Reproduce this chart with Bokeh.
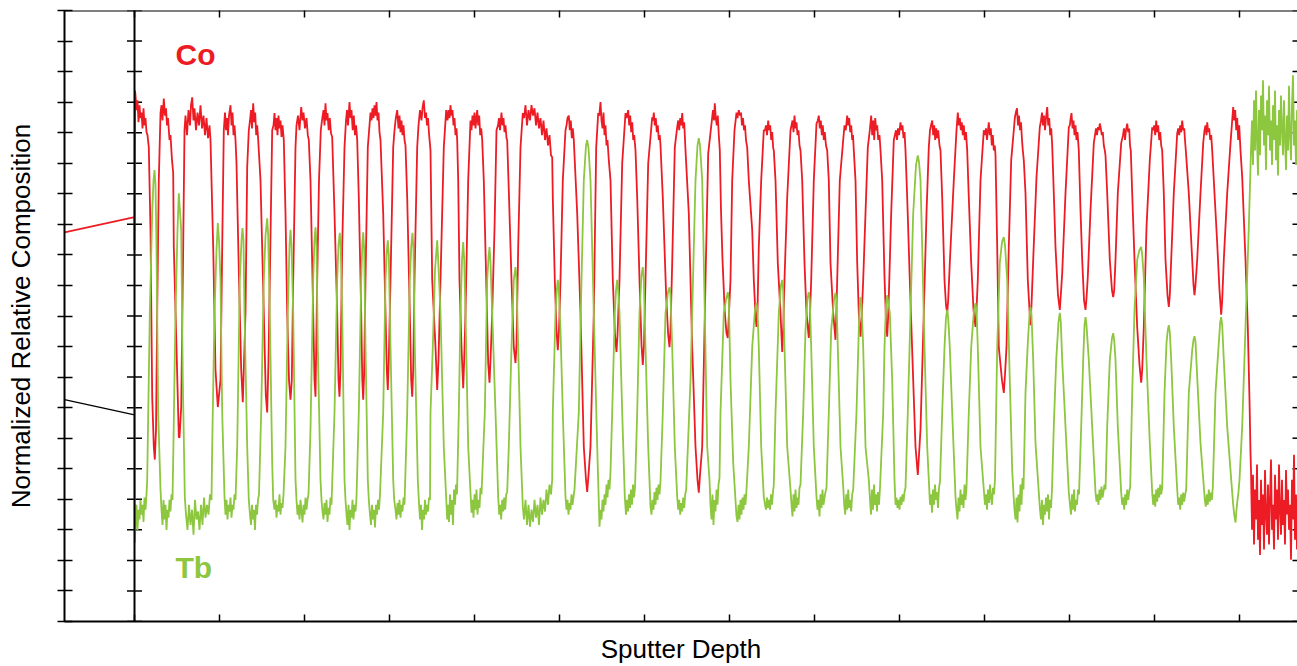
import math
from bokeh.plotting import figure
from bokeh.models import Range1d, FixedTicker, Label, Span, CustomLabelingPolicy
from bokeh.embed import file_html
from bokeh.resources import INLINE

CO_RED = "#ED1C24"
TB_GREEN = "#8DC63F"

# axis ticks (no tick labels are shown in the original)
depth_ticks = [0.0, 8.5, 17.0, 25.5, 34.0, 42.5, 51.0, 59.5, 68.0, 76.5, 85.0, 93.5, 102.0, 110.5]
comp_ticks = [0.0, 0.05, 0.10, 0.15, 0.20, 0.25, 0.30, 0.35, 0.40, 0.45, 0.50,
              0.55, 0.60, 0.65, 0.70, 0.75, 0.80, 0.85, 0.90, 0.95, 1.0]
depth_start, depth_end = -7.0, 116.3
break_depth = 0.0

# Co profile (depth, normalized composition)
co_depth = [
    -7.0, 0.0, 0.0, 0.05,
    0.1, 0.2, 0.3, 0.4, 0.5, 0.6, 0.7, 0.8, 0.9, 1.0, 1.1, 1.2, 1.3, 1.43, 1.6, 1.77, 1.93, 2.03, 2.15, 2.27, 2.43, 2.6,
    2.7, 2.8, 2.93, 3.05, 3.15, 3.25, 3.35, 3.5, 3.6, 3.75, 3.87, 3.93, 4.2, 4.43, 4.5, 4.67, 4.87, 5.0,
    5.1, 5.25, 5.4, 5.55, 5.65, 5.77, 5.9, 6.0, 6.15, 6.3, 6.45, 6.6, 6.75, 6.9, 7.05, 7.2, 7.35, 7.5, 7.6, 7.87, 8.1, 8.33, 8.6, 8.77, 8.93,
    9.05, 9.15, 9.25, 9.35, 9.45, 9.6, 9.7, 9.8, 9.9, 10.0, 10.1, 10.2, 10.43, 10.67, 10.83, 11.1, 11.27, 11.43,
    11.55, 11.65, 11.75, 11.87, 11.97, 12.07, 12.17, 12.27, 12.37, 12.6, 12.93, 13.13, 13.27, 13.4, 13.53, 13.77,
    13.9, 14.0, 14.1, 14.2, 14.3, 14.4, 14.5, 14.6, 14.7, 14.8, 14.93, 15.1, 15.27, 15.45, 15.6, 15.73, 15.87, 16.1,
    16.2, 16.35, 16.5, 16.67, 16.8, 16.9, 17.05, 17.2, 17.33, 17.43, 17.6, 17.87, 18.0, 18.1, 18.27, 18.45, 18.63,
    18.75, 18.9, 19.0, 19.1, 19.2, 19.3, 19.42, 19.53, 19.65, 19.77, 20.0, 20.27, 20.4, 20.5, 20.6, 20.77, 21.0,
    21.15, 21.25, 21.35, 21.5, 21.6, 21.7, 21.82, 21.93, 22.05, 22.16, 22.27, 22.43, 22.67, 22.78, 22.87, 22.96, 23.1, 23.33,
    23.5, 23.6, 23.7, 23.8, 23.9, 24.0, 24.1, 24.2, 24.3, 24.4, 24.5, 24.6, 24.87, 25.1, 25.23, 25.33, 25.43, 25.6, 25.87,
    26.0, 26.13, 26.27, 26.4, 26.5, 26.6, 26.7, 26.8, 26.9, 27.0, 27.1, 27.27, 27.53, 27.67, 27.77, 27.87, 28.0, 28.27,
    28.4, 28.55, 28.7, 28.8, 28.93, 29.05, 29.15, 29.25, 29.35, 29.45, 29.6, 29.77, 30.1, 30.27, 30.4, 30.6, 30.93, 31.17,
    31.3, 31.4, 31.5, 31.6, 31.7, 31.8, 31.9, 32.0, 32.1, 32.2, 32.27, 32.37, 32.5, 32.7, 32.87, 32.97, 33.1, 33.37, 33.6,
    33.7, 33.8, 33.9, 34.0, 34.1, 34.27, 34.37, 34.47, 34.57, 34.67, 34.77, 34.93, 35.17, 35.37, 35.5, 35.6, 35.77, 36.0, 36.2,
    36.35, 36.45, 36.55, 36.7, 36.8, 36.9, 37.0, 37.1, 37.2, 37.27, 37.43, 37.7, 37.93, 38.1, 38.2, 38.37, 38.6, 38.83,
    38.95, 39.1, 39.25, 39.4, 39.55, 39.7, 39.85, 40.0, 40.15, 40.3, 40.45, 40.6, 40.75, 40.9, 41.05, 41.2, 41.35, 41.5, 41.65, 41.77, 41.83, 42.03, 42.2, 42.33, 42.45, 42.6, 42.83, 43.1,
    43.2, 43.3, 43.43, 43.53, 43.63, 43.73, 43.83, 43.93, 44.27, 44.6, 44.93, 45.15, 45.27, 45.4, 45.6, 45.93, 46.17, 46.37,
    46.48, 46.6, 46.7, 46.8, 46.9, 47.0, 47.1, 47.2, 47.3, 47.43, 47.6, 47.83, 48.05, 48.2, 48.3, 48.5, 48.77, 49.1,
    49.2, 49.37, 49.47, 49.57, 49.67, 49.77, 49.87, 49.97, 50.1, 50.27, 50.5, 50.7, 50.83, 50.95, 51.1, 51.37, 51.77,
    51.85, 51.93, 52.03, 52.13, 52.23, 52.33, 52.43, 52.53, 52.6, 52.83, 53.17, 53.37, 53.5, 53.6, 53.77, 54.03, 54.27,
    54.37, 54.47, 54.57, 54.67, 54.77, 54.87, 54.97, 55.1, 55.43, 55.77, 56.1, 56.3, 56.43, 56.55, 56.77, 57.1, 57.37, 57.77,
    57.85, 57.95, 58.03, 58.13, 58.23, 58.33, 58.43, 58.53, 58.65, 58.8, 59.03, 59.2, 59.33, 59.6, 59.77, 60.0, 60.2,
    60.3, 60.43, 60.55, 60.65, 60.75, 60.85, 60.95, 61.05, 61.15, 61.27, 61.43, 61.77, 61.93, 62.1, 62.2, 62.3, 62.43, 62.67, 62.93,
    63.05, 63.15, 63.25, 63.37, 63.47, 63.57, 63.67, 63.77, 63.87, 63.93, 64.1, 64.33, 64.6, 64.77, 64.87, 65.0, 65.27, 65.6,
    65.7, 65.8, 65.9, 66.0, 66.1, 66.2, 66.3, 66.4, 66.5, 66.6, 66.77, 67.0, 67.2, 67.43, 67.53, 67.67, 67.93, 68.2,
    68.33, 68.43, 68.53, 68.63, 68.73, 68.83, 68.93, 69.03, 69.15, 69.27, 69.43, 69.6, 69.87, 70.1, 70.18, 70.27, 70.53, 70.87,
    71.0, 71.13, 71.27, 71.37, 71.47, 71.57, 71.67, 71.77, 71.85, 71.93, 72.1, 72.27, 72.43, 72.6, 72.7, 72.87, 73.1, 73.33,
    73.53, 73.67, 73.77, 73.87, 73.97, 74.07, 74.17, 74.27, 74.37, 74.5, 74.6, 74.77, 75.0, 75.15, 75.27, 75.35, 75.43, 75.67, 75.93,
    76.15, 76.25, 76.35, 76.45, 76.6, 76.7, 76.8, 76.9, 77.0, 77.1, 77.27, 77.53, 77.87, 78.1, 78.33, 78.45, 78.6, 78.93, 79.2, 79.43,
    79.55, 79.65, 79.77, 79.87, 79.97, 80.07, 80.17, 80.27, 80.37, 80.5, 80.6, 80.77, 81.0, 81.15, 81.27, 81.37, 81.53, 81.93, 82.2,
    82.33, 82.43, 82.53, 82.63, 82.73, 82.83, 82.93, 83.03, 83.15, 83.27, 83.43, 83.67, 83.9, 84.1, 84.2, 84.33, 84.6, 84.93,
    85.05, 85.15, 85.25, 85.35, 85.43, 85.53, 85.63, 85.73, 85.83, 85.93, 86.03, 86.1, 86.27, 86.43, 86.75, 86.93, 87.05, 87.2, 87.43, 87.67, 87.93,
    88.03, 88.13, 88.25, 88.35, 88.45, 88.55, 88.65, 88.75, 88.83, 88.93, 89.1, 89.33, 89.5, 89.6, 89.7, 89.87, 90.2, 90.53,
    90.65, 90.75, 90.85, 90.95, 91.05, 91.15, 91.27, 91.37, 91.47, 91.57, 91.67, 91.77, 91.93, 92.1, 92.35, 92.53, 92.63, 92.77, 93.1, 93.43,
    93.53, 93.62, 93.7, 93.8, 93.9, 94.0, 94.1, 94.2, 94.3, 94.43, 94.6, 94.77, 94.95, 95.1, 95.2, 95.33, 95.6, 95.93,
    96.05, 96.15, 96.25, 96.35, 96.45, 96.53, 96.63, 96.73, 96.83, 96.93, 97.03, 97.1, 97.27, 97.53, 97.75, 97.87, 97.97, 98.1, 98.33, 98.67,
    98.85, 98.95, 99.05, 99.15, 99.27, 99.37, 99.47, 99.55, 99.63, 99.77, 100.0, 100.27, 100.5, 100.67, 100.77, 100.93, 101.2, 101.53, 101.77,
    101.87, 101.97, 102.07, 102.17, 102.27, 102.37, 102.47, 102.57, 102.67, 102.77, 102.93, 103.1, 103.3, 103.43, 103.53, 103.67, 103.93, 104.27,
    104.37, 104.47, 104.57, 104.67, 104.77, 104.87, 104.97, 105.05, 105.13, 105.43, 105.77, 105.9, 106.0, 106.1, 106.27, 106.6, 106.87,
    107.0, 107.1, 107.2, 107.27, 107.37, 107.47, 107.57, 107.67, 107.77, 108.0, 108.27, 108.5, 108.67, 108.77, 108.93, 109.27, 109.6, 109.87,
    109.97, 110.07, 110.17, 110.27, 110.37, 110.47, 110.6, 110.77, 111.1, 111.33, 111.5, 111.6,
    111.65, 111.75, 111.85, 111.95, 112.05, 112.15, 112.25, 112.35, 112.45, 112.55,
    112.65, 112.75, 112.85, 112.95, 113.05, 113.15, 113.25, 113.35, 113.45, 113.55,
    113.65, 113.75, 113.85, 113.95, 114.05, 114.15, 114.25, 114.35, 114.45, 114.55,
    114.65, 114.75, 114.85, 114.95, 115.05, 115.15, 115.25, 115.35, 115.45, 115.55,
    115.65, 115.75, 115.85, 115.95, 116.05, 116.15, 116.25,
]
co_comp = [
    0.637, 0.662, 0.608, 0.869,
    0.861, 0.837, 0.853, 0.817, 0.845, 0.824, 0.833, 0.807, 0.840, 0.812, 0.824, 0.801, 0.796, 0.776, 0.641, 0.368, 0.286, 0.265, 0.314, 0.505, 0.722, 0.832,
    0.845, 0.820, 0.856, 0.828, 0.840, 0.812, 0.824, 0.788, 0.796, 0.755, 0.734, 0.613, 0.449, 0.302, 0.301, 0.351, 0.613, 0.804,
    0.828, 0.796, 0.837, 0.812, 0.845, 0.858, 0.820, 0.840, 0.804, 0.833, 0.812, 0.845, 0.807, 0.828, 0.796, 0.824, 0.791, 0.812, 0.788, 0.613, 0.412, 0.351, 0.395, 0.613, 0.804,
    0.833, 0.804, 0.824, 0.796, 0.828, 0.845, 0.812, 0.833, 0.796, 0.812, 0.788, 0.750, 0.575, 0.412, 0.359, 0.505, 0.744, 0.804,
    0.820, 0.837, 0.807, 0.848, 0.817, 0.833, 0.796, 0.812, 0.788, 0.722, 0.505, 0.371, 0.342, 0.428, 0.559, 0.804,
    0.812, 0.832, 0.804, 0.824, 0.796, 0.828, 0.807, 0.820, 0.793, 0.812, 0.788, 0.668, 0.505, 0.395, 0.363, 0.395, 0.559, 0.776,
    0.812, 0.828, 0.804, 0.842, 0.820, 0.833, 0.807, 0.824, 0.796, 0.788, 0.722, 0.505, 0.395, 0.368, 0.559, 0.722, 0.804,
    0.820, 0.837, 0.812, 0.848, 0.820, 0.832, 0.804, 0.824, 0.799, 0.793, 0.668, 0.505, 0.395, 0.368, 0.412, 0.613, 0.776,
    0.820, 0.837, 0.812, 0.850, 0.824, 0.837, 0.804, 0.828, 0.796, 0.812, 0.788, 0.694, 0.505, 0.395, 0.363, 0.404, 0.559, 0.776,
    0.812, 0.833, 0.820, 0.840, 0.824, 0.845, 0.828, 0.850, 0.820, 0.833, 0.801, 0.788, 0.668, 0.505, 0.412, 0.379, 0.428, 0.559, 0.776,
    0.804, 0.824, 0.837, 0.807, 0.828, 0.801, 0.820, 0.796, 0.812, 0.788, 0.779, 0.694, 0.505, 0.395, 0.368, 0.412, 0.559, 0.776,
    0.812, 0.837, 0.820, 0.840, 0.853, 0.824, 0.833, 0.812, 0.824, 0.799, 0.771, 0.559, 0.449, 0.379, 0.428, 0.559, 0.776, 0.837,
    0.820, 0.837, 0.824, 0.845, 0.828, 0.837, 0.812, 0.824, 0.796, 0.807, 0.788, 0.722, 0.559, 0.449, 0.382, 0.428, 0.505, 0.722, 0.820,
    0.804, 0.828, 0.812, 0.833, 0.807, 0.837, 0.812, 0.828, 0.796, 0.807, 0.788, 0.722, 0.559, 0.423, 0.391, 0.428, 0.505, 0.641, 0.804,
    0.812, 0.824, 0.804, 0.833, 0.812, 0.824, 0.801, 0.812, 0.791, 0.788, 0.706, 0.559, 0.449, 0.423, 0.453, 0.613, 0.776, 0.832,
    0.824, 0.845, 0.812, 0.837, 0.820, 0.845, 0.828, 0.840, 0.812, 0.833, 0.807, 0.824, 0.796, 0.820, 0.788, 0.807, 0.779, 0.796, 0.763, 0.760, 0.694, 0.559, 0.477, 0.444, 0.477, 0.559, 0.722, 0.804,
    0.812, 0.824, 0.828, 0.804, 0.820, 0.791, 0.807, 0.788, 0.668, 0.505, 0.286, 0.232, 0.212, 0.240, 0.286, 0.505, 0.776, 0.832,
    0.828, 0.850, 0.820, 0.807, 0.833, 0.796, 0.812, 0.779, 0.788, 0.755, 0.722, 0.559, 0.469, 0.441, 0.469, 0.559, 0.750, 0.832,
    0.824, 0.837, 0.812, 0.828, 0.801, 0.817, 0.788, 0.796, 0.771, 0.694, 0.559, 0.453, 0.420, 0.453, 0.559, 0.750, 0.825,
    0.820, 0.833, 0.812, 0.824, 0.801, 0.812, 0.788, 0.796, 0.779, 0.694, 0.531, 0.469, 0.449, 0.477, 0.587, 0.776, 0.809,
    0.820, 0.804, 0.824, 0.812, 0.832, 0.807, 0.817, 0.771, 0.668, 0.449, 0.286, 0.232, 0.211, 0.240, 0.286, 0.559, 0.766, 0.825,
    0.837, 0.820, 0.848, 0.824, 0.812, 0.828, 0.796, 0.771, 0.673, 0.592, 0.505, 0.472, 0.464, 0.559, 0.722, 0.804, 0.833,
    0.824, 0.837, 0.828, 0.833, 0.812, 0.824, 0.804, 0.812, 0.788, 0.776, 0.722, 0.641, 0.559, 0.502, 0.482, 0.510, 0.613, 0.722, 0.804,
    0.804, 0.812, 0.796, 0.820, 0.804, 0.812, 0.788, 0.801, 0.775, 0.771, 0.722, 0.587, 0.505, 0.441, 0.477, 0.559, 0.694, 0.804,
    0.812, 0.820, 0.801, 0.828, 0.807, 0.817, 0.796, 0.804, 0.779, 0.771, 0.722, 0.587, 0.505, 0.464, 0.493, 0.559, 0.722, 0.815,
    0.820, 0.828, 0.807, 0.820, 0.796, 0.812, 0.788, 0.801, 0.779, 0.771, 0.722, 0.587, 0.505, 0.461, 0.502, 0.559, 0.722, 0.788,
    0.812, 0.804, 0.828, 0.812, 0.824, 0.801, 0.812, 0.788, 0.796, 0.771, 0.722, 0.587, 0.505, 0.466, 0.493, 0.559, 0.668, 0.776,
    0.804, 0.828, 0.796, 0.820, 0.788, 0.824, 0.804, 0.812, 0.788, 0.796, 0.771, 0.722, 0.564, 0.493, 0.466, 0.493, 0.531, 0.668, 0.788,
    0.804, 0.788, 0.807, 0.796, 0.817, 0.804, 0.812, 0.791, 0.801, 0.771, 0.694, 0.559, 0.395, 0.286, 0.240, 0.273, 0.314, 0.505, 0.668, 0.776,
    0.804, 0.812, 0.820, 0.796, 0.812, 0.788, 0.807, 0.791, 0.804, 0.779, 0.771, 0.694, 0.559, 0.518, 0.505, 0.526, 0.587, 0.722, 0.804,
    0.833, 0.812, 0.824, 0.804, 0.817, 0.796, 0.812, 0.788, 0.801, 0.771, 0.694, 0.587, 0.510, 0.482, 0.510, 0.559, 0.722, 0.804,
    0.796, 0.807, 0.788, 0.804, 0.817, 0.796, 0.807, 0.779, 0.796, 0.771, 0.779, 0.763, 0.613, 0.449, 0.395, 0.374, 0.404, 0.449, 0.613, 0.755, 0.804,
    0.824, 0.833, 0.840, 0.812, 0.828, 0.804, 0.817, 0.788, 0.771, 0.755, 0.701, 0.559, 0.510, 0.485, 0.518, 0.592, 0.727, 0.809,
    0.820, 0.833, 0.812, 0.828, 0.804, 0.824, 0.842, 0.812, 0.824, 0.796, 0.807, 0.779, 0.701, 0.613, 0.534, 0.510, 0.534, 0.570, 0.701, 0.809,
    0.812, 0.824, 0.832, 0.807, 0.820, 0.796, 0.812, 0.788, 0.801, 0.771, 0.673, 0.592, 0.526, 0.510, 0.529, 0.564, 0.673, 0.783,
    0.796, 0.807, 0.796, 0.809, 0.804, 0.815, 0.807, 0.796, 0.801, 0.779, 0.771, 0.763, 0.701, 0.592, 0.542, 0.531, 0.542, 0.592, 0.701, 0.783,
    0.796, 0.807, 0.788, 0.804, 0.815, 0.801, 0.807, 0.779, 0.771, 0.701, 0.592, 0.482, 0.420, 0.391, 0.412, 0.482, 0.645, 0.755, 0.809,
    0.804, 0.812, 0.796, 0.820, 0.801, 0.812, 0.788, 0.801, 0.779, 0.771, 0.701, 0.592, 0.534, 0.515, 0.534, 0.592, 0.701, 0.799,
    0.807, 0.796, 0.812, 0.801, 0.820, 0.804, 0.807, 0.788, 0.771, 0.701, 0.592, 0.551, 0.534, 0.551, 0.592, 0.701, 0.783,
    0.804, 0.812, 0.796, 0.817, 0.801, 0.807, 0.788, 0.796, 0.771, 0.701, 0.619, 0.542, 0.502, 0.526, 0.592, 0.701, 0.783, 0.842,
    0.820, 0.837, 0.804, 0.824, 0.788, 0.812, 0.771, 0.727, 0.592, 0.482, 0.363, 0.276,
    0.248, 0.150, 0.240, 0.126, 0.216, 0.167, 0.257, 0.134, 0.199, 0.109,
    0.232, 0.158, 0.208, 0.118, 0.248, 0.175, 0.142, 0.224, 0.126, 0.199,
    0.265, 0.150, 0.191, 0.118, 0.240, 0.167, 0.216, 0.134, 0.257, 0.183,
    0.142, 0.232, 0.158, 0.199, 0.126, 0.248, 0.175, 0.216, 0.150, 0.191,
    0.101, 0.232, 0.167, 0.273, 0.134, 0.208, 0.118,
]

# Tb profile (depth, normalized composition)
tb_depth = [
    0.0, 0.03,
    0.1, 0.2, 0.3, 0.4, 0.5, 0.6, 0.7, 0.8, 0.9, 1.0, 1.1, 1.2, 1.27, 1.53, 1.77, 1.9, 2.0, 2.1, 2.2, 2.37, 2.6,
    2.7, 2.8, 2.9, 3.0, 3.1, 3.2, 3.3, 3.4, 3.5, 3.6, 3.7, 3.8, 3.87, 4.1, 4.3, 4.43, 4.67, 4.83, 5.03,
    5.15, 5.3, 5.45, 5.6, 5.75, 5.9, 6.05, 6.2, 6.35, 6.5, 6.65, 6.8, 6.95, 7.1, 7.25, 7.4, 7.55, 7.7, 7.77, 8.0, 8.2, 8.33, 8.45, 8.6, 8.77, 9.0,
    9.1, 9.2, 9.3, 9.4, 9.5, 9.6, 9.7, 9.8, 9.9, 10.0, 10.1, 10.27, 10.53, 10.7, 10.8, 10.9, 11.0, 11.27, 11.43,
    11.55, 11.65, 11.75, 11.85, 11.95, 12.05, 12.15, 12.25, 12.35, 12.45, 12.67, 12.93, 13.1, 13.27, 13.37, 13.53, 13.7, 13.77, 13.87,
    14.0, 14.1, 14.2, 14.3, 14.4, 14.5, 14.6, 14.7, 14.8, 14.9, 15.1, 15.33, 15.5, 15.6, 15.7, 15.87, 16.1, 16.2,
    16.3, 16.4, 16.5, 16.6, 16.7, 16.8, 16.9, 17.0, 17.1, 17.2, 17.3, 17.4, 17.6, 17.87, 18.0, 18.1, 18.2, 18.33, 18.6, 18.7,
    18.8, 18.9, 19.0, 19.1, 19.2, 19.3, 19.4, 19.5, 19.6, 19.7, 20.0, 20.27, 20.4, 20.53, 20.63, 20.77, 21.0, 21.1,
    21.2, 21.3, 21.4, 21.5, 21.6, 21.7, 21.8, 21.9, 22.0, 22.1, 22.2, 22.43, 22.67, 22.78, 22.87, 22.97, 23.1, 23.33, 23.43,
    23.55, 23.65, 23.75, 23.85, 23.95, 24.05, 24.15, 24.25, 24.35, 24.45, 24.55, 24.87, 25.1, 25.23, 25.33, 25.43, 25.6, 25.87, 25.97,
    26.1, 26.2, 26.3, 26.4, 26.5, 26.6, 26.7, 26.8, 26.9, 27.0, 27.27, 27.53, 27.68, 27.8, 27.9, 28.03, 28.33, 28.43,
    28.55, 28.65, 28.75, 28.85, 28.95, 29.05, 29.15, 29.25, 29.35, 29.45, 29.55, 29.6, 29.83, 30.05, 30.27, 30.37, 30.6, 30.93, 31.27,
    31.35, 31.45, 31.55, 31.65, 31.75, 31.85, 31.95, 32.05, 32.15, 32.25, 32.43, 32.6, 32.75, 32.87, 32.97, 33.1, 33.37, 33.7,
    33.8, 33.9, 34.0, 34.1, 34.2, 34.3, 34.4, 34.5, 34.6, 34.7, 35.03, 35.27, 35.4, 35.5, 35.6, 35.77, 36.1, 36.37,
    36.47, 36.57, 36.67, 36.77, 36.87, 36.97, 37.07, 37.17, 37.27, 37.43, 37.7, 37.93, 38.1, 38.2, 38.37, 38.6, 38.83,
    38.95, 39.1, 39.25, 39.4, 39.55, 39.7, 39.85, 40.0, 40.15, 40.3, 40.45, 40.6, 40.75, 40.9, 41.05, 41.2, 41.35, 41.5, 41.65, 41.77, 41.83, 42.1, 42.23, 42.33, 42.43, 42.6, 42.83, 43.1,
    43.2, 43.3, 43.4, 43.5, 43.6, 43.7, 43.8, 43.9, 44.0, 44.43, 44.7, 44.93, 45.15, 45.27, 45.4, 45.6, 45.93, 46.27, 46.5,
    46.6, 46.7, 46.8, 46.9, 47.0, 47.1, 47.2, 47.3, 47.4, 47.5, 47.6, 47.77, 48.03, 48.15, 48.27, 48.37, 48.5, 48.77, 49.03,
    49.15, 49.25, 49.35, 49.45, 49.55, 49.65, 49.75, 49.85, 49.95, 50.05, 50.27, 50.5, 50.7, 50.83, 50.93, 51.1, 51.37, 51.6,
    51.7, 51.8, 51.9, 52.0, 52.1, 52.2, 52.3, 52.4, 52.5, 52.6, 52.83, 53.1, 53.35, 53.5, 53.6, 53.77, 54.03, 54.27,
    54.37, 54.47, 54.57, 54.67, 54.77, 54.87, 54.97, 55.07, 55.17, 55.6, 55.93, 56.1, 56.3, 56.43, 56.55, 56.77, 57.03, 57.27, 57.5,
    57.6, 57.7, 57.8, 57.9, 58.0, 58.1, 58.2, 58.3, 58.4, 58.5, 58.6, 58.93, 59.15, 59.33, 59.43, 59.6, 59.87, 60.2,
    60.3, 60.4, 60.5, 60.6, 60.7, 60.8, 60.9, 61.0, 61.1, 61.2, 61.43, 61.77, 62.05, 62.2, 62.3, 62.43, 62.67, 62.93,
    63.05, 63.15, 63.25, 63.35, 63.45, 63.55, 63.65, 63.75, 63.85, 63.93, 64.1, 64.43, 64.65, 64.77, 64.87, 65.0, 65.27, 65.6,
    65.7, 65.8, 65.9, 66.0, 66.1, 66.2, 66.3, 66.4, 66.5, 66.6, 66.87, 67.1, 67.3, 67.43, 67.53, 67.67, 67.93, 68.2,
    68.3, 68.4, 68.5, 68.6, 68.7, 68.8, 68.9, 69.0, 69.1, 69.2, 69.43, 69.67, 69.95, 70.1, 70.2, 70.33, 70.6, 70.87,
    70.97, 71.07, 71.17, 71.27, 71.37, 71.47, 71.57, 71.67, 71.77, 71.87, 72.2, 72.43, 72.53, 72.6, 72.7, 72.87, 73.1, 73.43,
    73.55, 73.65, 73.75, 73.85, 73.95, 74.05, 74.15, 74.25, 74.35, 74.45, 74.55, 74.87, 75.0, 75.15, 75.27, 75.53, 75.77, 76.0,
    76.1, 76.2, 76.3, 76.4, 76.5, 76.6, 76.7, 76.8, 76.9, 77.0, 77.1, 77.33, 77.6, 77.87, 78.15, 78.33, 78.45, 78.6, 78.77, 79.0, 79.27, 79.43,
    79.55, 79.65, 79.75, 79.85, 79.95, 80.05, 80.15, 80.25, 80.35, 80.45, 80.55, 80.77, 81.0, 81.15, 81.27, 81.37, 81.53, 81.77, 82.1,
    82.2, 82.3, 82.4, 82.5, 82.6, 82.7, 82.8, 82.9, 83.0, 83.1, 83.2, 83.43, 83.67, 83.95, 84.1, 84.2, 84.33, 84.6, 84.93,
    85.05, 85.15, 85.25, 85.35, 85.45, 85.55, 85.65, 85.75, 85.85, 85.95, 86.05, 86.27, 86.53, 86.75, 86.93, 87.05, 87.27, 87.53, 87.77, 87.9,
    88.0, 88.1, 88.2, 88.3, 88.4, 88.5, 88.6, 88.7, 88.8, 88.9, 89.1, 89.33, 89.5, 89.6, 89.7, 89.87, 90.1, 90.43,
    90.55, 90.65, 90.75, 90.85, 90.95, 91.05, 91.15, 91.25, 91.35, 91.45, 91.55, 91.65, 91.75, 91.93, 92.17, 92.4, 92.53, 92.63, 92.77, 93.1, 93.43,
    93.55, 93.65, 93.75, 93.85, 93.95, 94.05, 94.15, 94.25, 94.35, 94.45, 94.67, 94.87, 95.0, 95.1, 95.2, 95.43, 95.77, 96.1,
    96.2, 96.3, 96.4, 96.5, 96.6, 96.7, 96.8, 96.9, 97.0, 97.1, 97.27, 97.53, 97.75, 97.87, 97.97, 98.1, 98.33, 98.67,
    98.77, 98.87, 98.97, 99.07, 99.17, 99.27, 99.37, 99.47, 99.57, 99.77, 100.0, 100.27, 100.5, 100.67, 100.77, 100.93, 101.2, 101.53, 101.77,
    101.87, 101.97, 102.07, 102.17, 102.27, 102.37, 102.47, 102.57, 102.67, 102.77, 103.0, 103.2, 103.33, 103.43, 103.53, 103.67, 103.93, 104.27,
    104.37, 104.47, 104.57, 104.67, 104.77, 104.87, 104.97, 105.07, 105.17, 105.43, 105.77, 105.9, 106.0, 106.1, 106.27, 106.6, 106.93,
    107.03, 107.13, 107.23, 107.33, 107.43, 107.53, 107.63, 107.73, 107.83, 108.1, 108.43, 108.57, 108.67, 108.77, 108.93, 109.27, 109.77,
    109.87, 109.97, 110.1, 110.2, 110.3, 110.4, 110.5, 110.77, 111.1, 111.43, 111.67,
    111.75, 111.85, 111.95, 112.05, 112.15, 112.25, 112.35, 112.45, 112.55, 112.65,
    112.75, 112.85, 112.95, 113.05, 113.15, 113.25, 113.35, 113.45, 113.55, 113.65,
    113.75, 113.85, 113.95, 114.05, 114.15, 114.25, 114.35, 114.45, 114.55, 114.65,
    114.75, 114.85, 114.95, 115.05, 115.15, 115.25, 115.35, 115.45, 115.55, 115.65,
    115.75, 115.85, 115.95, 116.05, 116.15, 116.25,
]
tb_comp = [
    0.395, 0.129,
    0.158, 0.191, 0.150, 0.183, 0.167, 0.199, 0.175, 0.191, 0.163, 0.203, 0.183, 0.208, 0.232, 0.505, 0.668, 0.722, 0.739, 0.714, 0.613, 0.342, 0.216,
    0.183, 0.158, 0.199, 0.167, 0.191, 0.150, 0.183, 0.170, 0.199, 0.180, 0.208, 0.199, 0.265, 0.505, 0.641, 0.701, 0.641, 0.395, 0.204,
    0.175, 0.150, 0.191, 0.158, 0.183, 0.142, 0.199, 0.167, 0.180, 0.150, 0.191, 0.158, 0.203, 0.170, 0.191, 0.175, 0.208, 0.199, 0.286, 0.505, 0.608, 0.652, 0.624, 0.559, 0.342, 0.204,
    0.175, 0.199, 0.167, 0.191, 0.180, 0.203, 0.170, 0.191, 0.183, 0.208, 0.199, 0.286, 0.559, 0.624, 0.644, 0.624, 0.505, 0.286, 0.199,
    0.175, 0.158, 0.191, 0.167, 0.183, 0.150, 0.191, 0.175, 0.199, 0.208, 0.342, 0.559, 0.632, 0.660, 0.632, 0.505, 0.330, 0.260, 0.199,
    0.183, 0.199, 0.170, 0.191, 0.180, 0.208, 0.175, 0.194, 0.186, 0.208, 0.286, 0.505, 0.616, 0.641, 0.616, 0.505, 0.232, 0.199,
    0.175, 0.191, 0.167, 0.199, 0.180, 0.162, 0.191, 0.175, 0.203, 0.183, 0.199, 0.208, 0.314, 0.559, 0.624, 0.645, 0.616, 0.449, 0.232, 0.199,
    0.180, 0.167, 0.194, 0.175, 0.199, 0.163, 0.186, 0.175, 0.203, 0.191, 0.342, 0.559, 0.616, 0.636, 0.608, 0.505, 0.232, 0.199,
    0.175, 0.158, 0.191, 0.150, 0.183, 0.170, 0.199, 0.167, 0.191, 0.180, 0.203, 0.342, 0.559, 0.616, 0.637, 0.608, 0.449, 0.232, 0.199,
    0.175, 0.158, 0.191, 0.167, 0.183, 0.154, 0.191, 0.175, 0.199, 0.183, 0.208, 0.342, 0.559, 0.605, 0.624, 0.600, 0.449, 0.232, 0.199,
    0.183, 0.167, 0.194, 0.175, 0.199, 0.170, 0.191, 0.180, 0.203, 0.191, 0.342, 0.559, 0.616, 0.636, 0.608, 0.449, 0.232, 0.199,
    0.167, 0.191, 0.150, 0.183, 0.167, 0.199, 0.175, 0.191, 0.180, 0.203, 0.199, 0.342, 0.449, 0.575, 0.624, 0.592, 0.505, 0.286, 0.167,
    0.191, 0.163, 0.208, 0.175, 0.199, 0.158, 0.216, 0.191, 0.224, 0.208, 0.342, 0.505, 0.592, 0.621, 0.592, 0.505, 0.286, 0.178,
    0.199, 0.170, 0.208, 0.183, 0.216, 0.175, 0.199, 0.186, 0.219, 0.208, 0.342, 0.559, 0.595, 0.613, 0.588, 0.505, 0.342, 0.204,
    0.175, 0.191, 0.167, 0.199, 0.180, 0.203, 0.183, 0.208, 0.212, 0.286, 0.449, 0.559, 0.580, 0.559, 0.449, 0.286, 0.188,
    0.167, 0.199, 0.158, 0.191, 0.155, 0.183, 0.163, 0.199, 0.170, 0.191, 0.158, 0.203, 0.175, 0.199, 0.180, 0.216, 0.191, 0.224, 0.208, 0.232, 0.342, 0.505, 0.542, 0.559, 0.542, 0.477, 0.342, 0.204,
    0.183, 0.199, 0.175, 0.194, 0.183, 0.208, 0.191, 0.204, 0.216, 0.342, 0.559, 0.722, 0.779, 0.788, 0.775, 0.722, 0.505, 0.286, 0.155,
    0.183, 0.167, 0.199, 0.180, 0.208, 0.191, 0.224, 0.203, 0.232, 0.216, 0.245, 0.342, 0.505, 0.542, 0.559, 0.542, 0.505, 0.342, 0.204,
    0.175, 0.199, 0.180, 0.208, 0.186, 0.216, 0.191, 0.224, 0.203, 0.219, 0.342, 0.505, 0.567, 0.580, 0.559, 0.449, 0.286, 0.188,
    0.175, 0.199, 0.183, 0.212, 0.191, 0.219, 0.199, 0.224, 0.208, 0.229, 0.342, 0.505, 0.539, 0.547, 0.534, 0.449, 0.286, 0.204,
    0.183, 0.199, 0.175, 0.194, 0.180, 0.203, 0.186, 0.208, 0.216, 0.395, 0.613, 0.722, 0.779, 0.791, 0.779, 0.722, 0.505, 0.286, 0.232,
    0.191, 0.167, 0.208, 0.158, 0.199, 0.180, 0.216, 0.191, 0.224, 0.235, 0.342, 0.505, 0.526, 0.539, 0.526, 0.395, 0.260, 0.172,
    0.163, 0.191, 0.167, 0.199, 0.175, 0.203, 0.183, 0.208, 0.191, 0.216, 0.286, 0.449, 0.510, 0.521, 0.510, 0.449, 0.286, 0.204,
    0.191, 0.183, 0.203, 0.186, 0.199, 0.183, 0.208, 0.191, 0.212, 0.224, 0.342, 0.505, 0.551, 0.559, 0.542, 0.449, 0.286, 0.216,
    0.191, 0.172, 0.208, 0.180, 0.216, 0.186, 0.203, 0.191, 0.219, 0.224, 0.342, 0.477, 0.529, 0.539, 0.526, 0.449, 0.286, 0.204,
    0.183, 0.199, 0.172, 0.208, 0.186, 0.216, 0.191, 0.203, 0.212, 0.219, 0.342, 0.477, 0.526, 0.538, 0.526, 0.449, 0.286, 0.221,
    0.191, 0.175, 0.208, 0.183, 0.216, 0.186, 0.199, 0.180, 0.208, 0.216, 0.342, 0.477, 0.518, 0.531, 0.518, 0.449, 0.286, 0.232,
    0.199, 0.175, 0.216, 0.183, 0.224, 0.191, 0.208, 0.180, 0.212, 0.191, 0.219, 0.342, 0.449, 0.518, 0.534, 0.505, 0.395, 0.232,
    0.191, 0.203, 0.186, 0.199, 0.183, 0.204, 0.191, 0.208, 0.196, 0.212, 0.219, 0.342, 0.505, 0.668, 0.747, 0.763, 0.752, 0.722, 0.613, 0.449, 0.286, 0.232,
    0.191, 0.208, 0.178, 0.216, 0.191, 0.224, 0.199, 0.212, 0.186, 0.219, 0.229, 0.342, 0.449, 0.497, 0.510, 0.497, 0.449, 0.342, 0.204,
    0.183, 0.167, 0.203, 0.180, 0.216, 0.191, 0.208, 0.186, 0.224, 0.199, 0.219, 0.342, 0.449, 0.510, 0.521, 0.510, 0.449, 0.286, 0.216,
    0.191, 0.208, 0.183, 0.216, 0.194, 0.224, 0.203, 0.191, 0.219, 0.208, 0.232, 0.449, 0.587, 0.621, 0.629, 0.616, 0.559, 0.395, 0.248, 0.208,
    0.183, 0.167, 0.203, 0.162, 0.208, 0.180, 0.224, 0.191, 0.235, 0.216, 0.374, 0.456, 0.502, 0.515, 0.502, 0.428, 0.292, 0.211,
    0.183, 0.167, 0.199, 0.158, 0.191, 0.175, 0.203, 0.180, 0.208, 0.167, 0.199, 0.186, 0.216, 0.319, 0.428, 0.490, 0.505, 0.490, 0.428, 0.319, 0.211,
    0.191, 0.175, 0.208, 0.183, 0.216, 0.180, 0.199, 0.191, 0.216, 0.208, 0.319, 0.428, 0.485, 0.498, 0.485, 0.428, 0.319, 0.211,
    0.196, 0.208, 0.191, 0.216, 0.199, 0.221, 0.203, 0.212, 0.224, 0.216, 0.319, 0.428, 0.464, 0.472, 0.461, 0.428, 0.319, 0.211,
    0.191, 0.203, 0.183, 0.208, 0.191, 0.216, 0.199, 0.212, 0.221, 0.374, 0.510, 0.592, 0.608, 0.613, 0.600, 0.564, 0.428, 0.292, 0.211,
    0.191, 0.208, 0.188, 0.216, 0.196, 0.219, 0.203, 0.224, 0.208, 0.219, 0.374, 0.456, 0.477, 0.485, 0.474, 0.428, 0.319, 0.216,
    0.191, 0.203, 0.183, 0.208, 0.191, 0.211, 0.196, 0.208, 0.216, 0.374, 0.444, 0.461, 0.467, 0.458, 0.400, 0.292, 0.221,
    0.199, 0.188, 0.208, 0.191, 0.216, 0.196, 0.211, 0.199, 0.219, 0.374, 0.456, 0.490, 0.498, 0.485, 0.428, 0.319, 0.211,
    0.191, 0.175, 0.162, 0.183, 0.199, 0.212, 0.232, 0.319, 0.482, 0.645, 0.783,
    0.820, 0.747, 0.853, 0.771, 0.869, 0.788, 0.730, 0.837, 0.763, 0.861,
    0.804, 0.886, 0.779, 0.828, 0.739, 0.853, 0.796, 0.877, 0.771, 0.820,
    0.747, 0.845, 0.788, 0.869, 0.755, 0.812, 0.730, 0.837, 0.779, 0.861,
    0.804, 0.763, 0.853, 0.788, 0.739, 0.828, 0.771, 0.877, 0.796, 0.755,
    0.845, 0.894, 0.779, 0.820, 0.747, 0.837,
]

# black reference segment in the left margin region
ref_depth = [-7.0, 0.0]
ref_comp = [0.363, 0.338]

FONT = "Liberation Sans"

p = figure(width=1297, height=666,
           x_range=Range1d(depth_start, depth_end), y_range=Range1d(0.0, 1.0),
           output_backend="svg", toolbar_location=None,
           min_border_left=64, min_border_right=0, min_border_top=10, min_border_bottom=44,
           x_axis_label="Sputter Depth", y_axis_label="Normalized Relative Composition")
p.grid.visible = False
p.outline_line_color = None
p.background_fill_color = "white"
p.border_fill_color = "white"

no_labels = CustomLabelingPolicy(code="return []")

for ax in (p.xaxis[0], p.yaxis[0]):
    ax.major_label_policy = no_labels
    ax.major_label_text_font_size = "0px"
    ax.major_label_standoff = 0
    ax.minor_tick_line_color = None
    ax.axis_line_width = 2
    ax.axis_line_color = "black"
    ax.major_tick_line_width = 1.5
    ax.major_tick_line_color = "black"
    ax.axis_label_text_font = FONT
    ax.axis_label_text_font_size = "26px"
    ax.axis_label_text_font_style = "normal"
    ax.axis_label_text_color = "black"

p.xaxis[0].ticker = FixedTicker(ticks=depth_ticks)
p.xaxis[0].major_tick_in = 7
p.xaxis[0].major_tick_out = 0
p.xaxis[0].axis_label_standoff = 12

p.yaxis[0].ticker = FixedTicker(ticks=comp_ticks)
p.yaxis[0].major_tick_in = 8
p.yaxis[0].major_tick_out = 7
p.yaxis[0].axis_label_standoff = 22

# top border with inward ticks, right-edge inward ticks
p.add_layout(Span(location=1.0, dimension="width", line_color="black", line_width=2))
p.scatter(x=depth_ticks, y=[1.0] * len(depth_ticks), marker="dash", angle=math.pi / 2, size=14,
          line_color="black", line_width=1.5)
p.scatter(x=[depth_end] * len(comp_ticks), y=comp_ticks, marker="dash", size=10,
          line_color="black", line_width=1.5)

# inner vertical axis at the start of the profile
p.add_layout(Span(location=break_depth, dimension="height", line_color="black", line_width=2))
p.scatter(x=[break_depth] * len(comp_ticks), y=comp_ticks, marker="dash", size=15,
          line_color="black", line_width=1.5)

p.line(ref_depth, ref_comp, line_color="black", line_width=1.3)
p.line(co_depth, co_comp, line_color=CO_RED, line_width=1.8)
p.line(tb_depth, tb_comp, line_color=TB_GREEN, line_width=1.8)

p.add_layout(Label(x=4.1, y=0.928, text="Co", text_color=CO_RED, text_font=FONT,
                   text_font_size="30px", text_font_style="bold", text_baseline="middle"))
p.add_layout(Label(x=4.1, y=0.089, text="Tb", text_color=TB_GREEN, text_font=FONT,
                   text_font_size="30px", text_font_style="bold", text_baseline="middle"))

open("out.html", "w").write(file_html(p, INLINE))
